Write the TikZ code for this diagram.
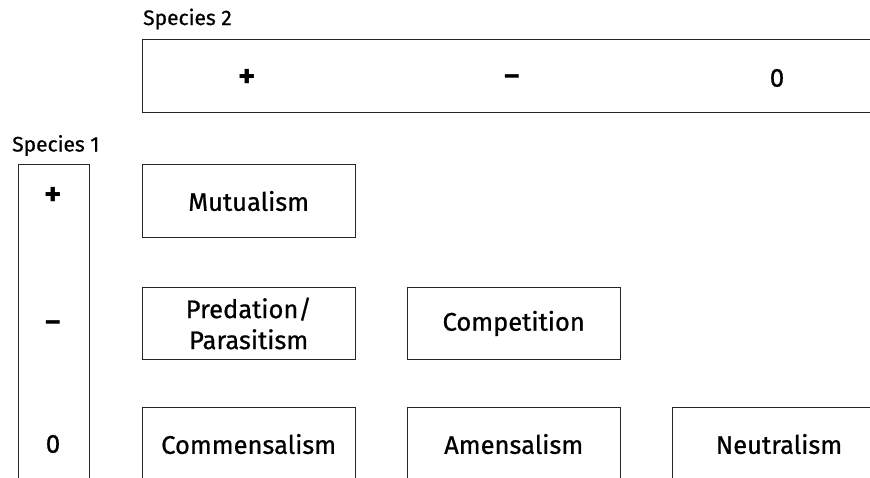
\documentclass[tikz,border=0pt]{standalone}
\usepackage{fontspec}
\setmainfont{Fira Sans}
\newfontfamily\medfont{Fira Sans}[FakeBold=0.7]
\begin{document}
\begin{tikzpicture}[x=1pt,y=-1pt,
  cell/.style={draw=black!85,line width=1pt,fill=white,anchor=north west,inner sep=0pt,
    minimum width=213pt,minimum height=72.5pt,align=center,font=\medfont\fontsize{25.5}{31}\selectfont},
  frame/.style={draw=black!85,line width=1pt,anchor=north west,inner sep=0pt},
  sign/.style={font=\fontsize{33}{35}\selectfont\bfseries,inner sep=0pt},
  label/.style={font=\medfont\fontsize{21}{23}\selectfont,anchor=base west,inner sep=0pt}]
\useasboundingbox (0,0) rectangle (870,477);
\clip (0,0) rectangle (870,477);
\node[label] (sp2) at (143,25) {Species 2};
\node[label] (sp1) at (12,151.5) {Species 1};
\node[frame,minimum width=760pt,minimum height=72.5pt] (top) at (141.7,39) {};
\node[frame,minimum width=71.6pt,minimum height=340pt] (left) at (17.7,164.3) {};
\node[sign] (tplus) at (247,78) {+};
\node[sign,font=\fontsize{29}{31}\selectfont\bfseries] (tminus) at (512,80) {–};
\node[sign,font=\medfont\fontsize{26}{29}\selectfont] (tzero) at (777,78) {0};
\node[sign] (lplus) at (53,196) {+};
\node[sign,font=\fontsize{29}{31}\selectfont\bfseries] (lminus) at (53,326) {–};
\node[sign,font=\medfont\fontsize{26}{29}\selectfont] (lzero) at (53,444) {0};
\node[cell] (mut) at (141.7,164.3) {Mutualism};
\node[cell] (pred) at (141.7,286.7) {Predation/\\Parasitism};
\node[cell] (comp) at (406.7,286.7) {Competition};
\node[cell] (comm) at (141.7,407.3) {Commensalism};
\node[cell] (amen) at (406.7,407.3) {Amensalism};
\node[cell] (neut) at (672,407.3) {Neutralism};
\end{tikzpicture}
\end{document}
